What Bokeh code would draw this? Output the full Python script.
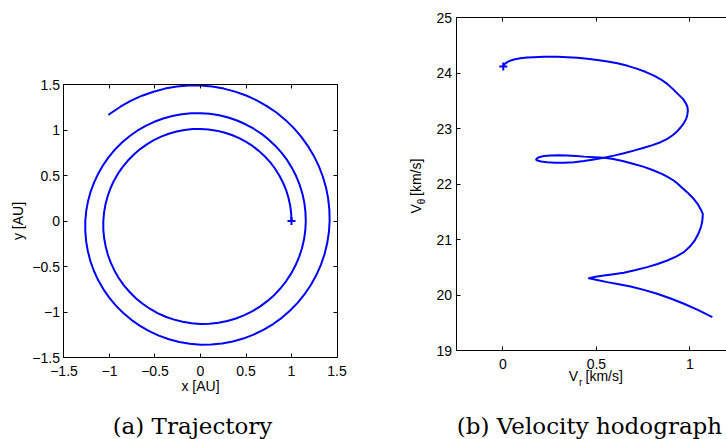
import math
from bokeh.plotting import figure
from bokeh.models import Range1d, LinearAxis, FixedTicker, Label
from bokeh.layouts import row
from bokeh.embed import file_html
from bokeh.resources import INLINE

# ---------------- data ----------------
# (a) trajectory, x and y in AU
traj_x = [1.000, 0.996, 0.985, 0.966, 0.940, 0.906, 0.866, 0.820, 0.767, 0.708,
          0.644, 0.575, 0.502, 0.425, 0.344, 0.260, 0.175, 0.088, 0.000, -0.088,
          -0.176, -0.263, -0.349, -0.433, -0.513, -0.590, -0.663, -0.732, -0.795, -0.853,
          -0.905, -0.951, -0.989, -1.020, -1.044, -1.060, -1.068, -1.068, -1.059, -1.042,
          -1.018, -0.985, -0.945, -0.897, -0.842, -0.779, -0.711, -0.636, -0.557, -0.472,
          -0.383, -0.290, -0.195, -0.098, 0.000, 0.099, 0.197, 0.295, 0.390, 0.483,
          0.572, 0.657, 0.737, 0.812, 0.880, 0.942, 0.997, 1.044, 1.084, 1.115,
          1.138, 1.152, 1.157, 1.153, 1.141, 1.120, 1.090, 1.052, 1.006, 0.953,
          0.892, 0.824, 0.750, 0.670, 0.585, 0.495, 0.402, 0.305, 0.205, 0.103,
          0.000, -0.104, -0.207, -0.310, -0.410, -0.508, -0.603, -0.695, -0.781, -0.863,
          -0.938, -1.007, -1.068, -1.123, -1.169, -1.207, -1.236, -1.256, -1.266, -1.266,
          -1.257, -1.238, -1.210, -1.172, -1.125, -1.068, -1.003, -0.930, -0.849, -0.760,
          -0.665, -0.564, -0.458, -0.347, -0.234, -0.117, 0.000, 0.119, 0.237, 0.355,
          0.470, 0.583, 0.691, 0.795, 0.893, 0.985, 1.069, 1.146, 1.214, 1.273,
          1.323, 1.363, 1.392, 1.411, 1.419, 1.416, 1.403, 1.379, 1.344, 1.299,
          1.244, 1.179, 1.106, 1.023, 0.933, 0.834, 0.729, 0.618, 0.502, 0.380,
          0.256, 0.128, 0.000, -0.130, -0.260, -0.390, -0.517, -0.642, -0.763, -0.880,
          -0.991, -1.012]
traj_y = [0.000, 0.087, 0.174, 0.259, 0.342, 0.423, 0.500, 0.574, 0.644, 0.709,
          0.768, 0.822, 0.869, 0.910, 0.945, 0.973, 0.993, 1.006, 1.012, 1.010,
          1.000, 0.983, 0.959, 0.927, 0.888, 0.842, 0.790, 0.731, 0.667, 0.597,
          0.523, 0.443, 0.360, 0.273, 0.184, 0.092, 0.000, -0.094, -0.187, -0.280,
          -0.371, -0.460, -0.546, -0.629, -0.707, -0.780, -0.848, -0.909, -0.964, -1.012,
          -1.052, -1.084, -1.108, -1.124, -1.131, -1.129, -1.118, -1.099, -1.071, -1.034,
          -0.990, -0.938, -0.878, -0.812, -0.739, -0.660, -0.576, -0.487, -0.394, -0.299,
          -0.201, -0.101, 0.000, 0.101, 0.201, 0.300, 0.397, 0.491, 0.581, 0.668,
          0.749, 0.825, 0.894, 0.958, 1.014, 1.063, 1.104, 1.137, 1.162, 1.178,
          1.185, 1.183, 1.173, 1.154, 1.126, 1.090, 1.045, 0.992, 0.931, 0.862,
          0.787, 0.705, 0.617, 0.523, 0.425, 0.323, 0.218, 0.109, 0.000, -0.111,
          -0.222, -0.332, -0.440, -0.547, -0.649, -0.748, -0.842, -0.930, -1.011, -1.086,
          -1.152, -1.211, -1.260, -1.299, -1.329, -1.349, -1.359, -1.358, -1.347, -1.325,
          -1.292, -1.249, -1.197, -1.135, -1.064, -0.984, -0.897, -0.802, -0.701, -0.594,
          -0.482, -0.365, -0.245, -0.123, 0.000, 0.124, 0.247, 0.369, 0.489, 0.606,
          0.718, 0.826, 0.928, 1.023, 1.111, 1.192, 1.263, 1.326, 1.379, 1.422,
          1.455, 1.477, 1.488, 1.488, 1.477, 1.455, 1.421, 1.377, 1.322, 1.256,
          1.181, 1.164]

# (b) velocity hodograph, V_r and V_theta in km/s
hodo_vr = [0.002, 0.006, 0.014, 0.025, 0.041, 0.065, 0.094, 0.128, 0.166, 0.219,
           0.290, 0.345, 0.397, 0.452, 0.505, 0.560, 0.612, 0.667, 0.719, 0.765,
           0.808, 0.846, 0.879, 0.908, 0.935, 0.963, 0.980, 0.987, 0.989, 0.986,
           0.980, 0.967, 0.949, 0.930, 0.906, 0.877, 0.843, 0.800, 0.754, 0.700,
           0.647, 0.594, 0.540, 0.486, 0.433, 0.380, 0.327, 0.280, 0.237, 0.205,
           0.184, 0.178, 0.180, 0.185, 0.193, 0.220, 0.255, 0.300, 0.344, 0.390,
           0.433, 0.487, 0.540, 0.590, 0.640, 0.695, 0.750, 0.800, 0.850, 0.883,
           0.913, 0.935, 0.955, 0.985, 1.016, 1.041, 1.059, 1.069, 1.068, 1.066,
           1.059, 1.045, 1.026, 1.000, 0.968, 0.926, 0.879, 0.827, 0.772, 0.710,
           0.647, 0.592, 0.540, 0.495, 0.460, 0.510, 0.558, 0.620, 0.683, 0.754,
           0.825, 0.897, 0.968, 1.045, 1.120]
hodo_vt = [24.123, 24.155, 24.180, 24.205, 24.230, 24.253, 24.270, 24.283, 24.290, 24.297,
           24.297, 24.290, 24.280, 24.263, 24.240, 24.213, 24.180, 24.135, 24.080, 24.023,
           23.960, 23.888, 23.810, 23.720, 23.630, 23.540, 23.450, 23.390, 23.330, 23.250,
           23.180, 23.100, 23.020, 22.950, 22.880, 22.815, 22.760, 22.707, 22.660, 22.608,
           22.560, 22.518, 22.480, 22.448, 22.420, 22.400, 22.390, 22.390, 22.400, 22.413,
           22.430, 22.445, 22.460, 22.475, 22.490, 22.510, 22.520, 22.524, 22.520, 22.513,
           22.500, 22.490, 22.480, 22.458, 22.420, 22.373, 22.320, 22.260, 22.190, 22.130,
           22.070, 22.010, 21.950, 21.860, 21.755, 21.650, 21.545, 21.470, 21.400, 21.335,
           21.230, 21.110, 20.990, 20.880, 20.780, 20.700, 20.630, 20.567, 20.510, 20.457,
           20.410, 20.383, 20.360, 20.335, 20.310, 20.275, 20.240, 20.200, 20.160, 20.100,
           20.030, 19.945, 19.850, 19.735, 19.610]

traj_ticks = [-1.5, -1.0, -0.5, 0.0, 0.5, 1.0, 1.5]
traj_tick_labels = ["\u22121.5", "\u22121", "\u22120.5", "0", "0.5", "1", "1.5"]
vr_ticks = [0.0, 0.5, 1.0]
vr_tick_labels = ["0", "0.5", "1"]
vt_ticks = [19.0, 20.0, 21.0, 22.0, 23.0, 24.0, 25.0]
vt_tick_labels = ["19", "20", "21", "22", "23", "24", "25"]

BLUE = "#0000ff"
SANS = "Liberation Sans"
SERIF = "DejaVu Serif"
H = 439
MID = 0.3465  # distance of text-box middle above the baseline, in em


def make_axis(ticks, labels=None, loc=0.0, bounds=None, standoff=4):
    ax = LinearAxis(fixed_location=loc, bounds=bounds)
    ax.axis_line_color = "black"
    ax.axis_line_width = 1
    ax.major_tick_line_color = "black"
    ax.minor_tick_line_color = "black"
    ax.major_tick_in = 4
    ax.major_tick_out = 0
    ax.minor_tick_in = 4
    ax.minor_tick_out = 0
    ax.major_label_text_font = SANS
    ax.major_label_text_font_size = "14px"
    ax.major_label_text_color = "black"
    ax.major_label_standoff = standoff
    if labels is None:
        # frame side without numbers: tick marks only
        ax.ticker = FixedTicker(ticks=[], minor_ticks=ticks)
    else:
        ax.ticker = FixedTicker(ticks=ticks, minor_ticks=[])
        ax.major_label_overrides = {t: s for t, s in zip(ticks, labels)}
    return ax


def add_text(p, x, base, text, size=14, vertical=False, align="left", font=SANS):
    """x, base: pixel position (from the canvas top-left) of the text start / baseline.
    For vertical text, x is the baseline column and base the start row."""
    if vertical:
        sx, sy = x - MID * size, H - base
        angle = math.pi / 2
    else:
        sx, sy = x, H - (base - MID * size)
        angle = 0.0
    p.add_layout(Label(x=sx, y=sy, x_units="screen", y_units="screen", text=text,
                       text_align=align, text_baseline="middle", angle=angle,
                       text_font=font, text_font_size=f"{size}px", text_color="black"))


def base_figure(width, xr, yr):
    p = figure(width=width, height=H, x_range=Range1d(*xr), y_range=Range1d(*yr),
               output_backend="svg", toolbar_location=None,
               x_axis_location=None, y_axis_location=None, min_border=0)
    p.frame_align = False
    p.title.visible = False
    p.grid.visible = False
    p.outline_line_color = None
    p.background_fill_color = "white"
    p.border_fill_color = "white"
    return p


# ---------------- (a) trajectory ----------------
p1 = base_figure(400, (-2.1978, 2.1978), (-2.4011, 2.4231))
p1.add_layout(make_axis(traj_ticks, traj_tick_labels, loc=-1.5, bounds=(-1.5, 1.5), standoff=8), "below")
p1.add_layout(make_axis(traj_ticks, traj_tick_labels, loc=-1.5, bounds=(-1.5, 1.5), standoff=4), "left")
p1.add_layout(make_axis(traj_ticks, None, loc=1.5, bounds=(-1.5, 1.5)), "above")
p1.add_layout(make_axis(traj_ticks, None, loc=1.5, bounds=(-1.5, 1.5)), "right")

p1.line(traj_x, traj_y, line_color=BLUE, line_width=2, line_join="round")
p1.scatter([traj_x[0]], [traj_y[0]], marker="cross", size=8, line_color=BLUE, line_width=2)

add_text(p1, 200, 390.3, "x [AU]", align="center")
add_text(p1, 22.8, 220.5, "y [AU]", align="center", vertical=True)
add_text(p1, 192, 433.5, "(a) Trajectory", size=23, align="center", font=SERIF)

# ---------------- (b) velocity hodograph ----------------
p2 = base_figure(326, (-0.5476, 1.1957), (17.406, 25.3115))
p2.add_layout(make_axis(vr_ticks, vr_tick_labels, loc=19, bounds=(-0.25, 1.25), standoff=8), "below")
p2.add_layout(make_axis(vt_ticks, vt_tick_labels, loc=-0.25, bounds=(19, 25), standoff=4), "left")
p2.add_layout(make_axis(vr_ticks, None, loc=25, bounds=(-0.25, 1.25)), "above")

p2.line(hodo_vr, hodo_vt, line_color=BLUE, line_width=2, line_join="round")
p2.scatter([hodo_vr[0]], [hodo_vt[0]], marker="cross", size=8, line_color=BLUE, line_width=2)

# V_r [km/s]
add_text(p2, 168.3, 380.0, "V")
add_text(p2, 178.5, 385.5, "r", size=10)
add_text(p2, 185.0, 380.0, "[km/s]")
# V_theta [km/s] (vertical)
add_text(p2, 20.0, 213.0, "V", vertical=True)
add_text(p2, 24.5, 203.7, "\u03b8", size=10, vertical=True)
add_text(p2, 20.0, 195.5, "[km/s]", vertical=True)

add_text(p2, 189, 433.5, "(b) Velocity hodograph", size=23, align="center", font=SERIF)

layout = row(p1, p2)
open("out.html", "w").write(file_html(layout, INLINE))
